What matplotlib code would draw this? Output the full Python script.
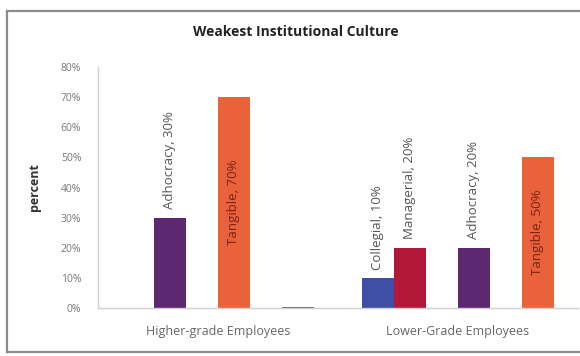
import matplotlib
matplotlib.use("Agg")
import matplotlib.pyplot as plt
from matplotlib.lines import Line2D

# groups and the six bar slots in each group (Excel clustered layout)
groups = ["Higher-grade Employees", "Lower-Grade Employees"]
higher_names = ["", "Adhocracy", "", "Tangible", "", "Other"]
higher_values = [0, 30, 0, 70, 0, 0]
lower_names = ["Collegial", "Managerial", "", "Adhocracy", "", "Tangible"]
lower_values = [10, 20, 0, 20, 0, 50]
yticks = [0, 10, 20, 30, 40, 50, 60, 70, 80]

colors = {
    "Collegial": "#3e4fa5",
    "Managerial": "#b3183b",
    "Adhocracy": "#5c2870",
    "Tangible": "#e9623a",
    "Other": "#6a6a6a",
}

plt.rcParams["font.family"] = ["Open Sans", "DejaVu Sans"]

fig = plt.figure(figsize=(5.8, 3.56), dpi=100)
ax = fig.add_axes([98 / 580, 48 / 356, 480 / 580, 241 / 356])

# outer chart frame: left, top and bottom only (right side is cut off in the scan)
fx0, fy0, fy1 = 7 / 580, 4 / 356, 345 / 356
for xs, ys in [([fx0, fx0], [fy0, fy1]), ([fx0, 1.0], [fy1, fy1]), ([fx0, 1.0], [fy0, fy0])]:
    fig.add_artist(Line2D(xs, ys, transform=fig.transFigure,
                          color="#8c8c8c", linewidth=1.6))

n_slots = 6
width = 1 / 7.5
for gi, (names, values) in enumerate([(higher_names, higher_values),
                                      (lower_names, lower_values)]):
    for k, (name, val) in enumerate(zip(names, values)):
        if not name:
            continue
        x = gi + (k - (n_slots - 1) / 2) * width
        if val == 0:
            ax.bar(x, 0.4, width=width, bottom=-0.2, color=colors[name], linewidth=0)
            continue
        ax.bar(x, val, width=width, color=colors[name], linewidth=0)
        label = f"{name}, {val}%"
        if name == "Tangible":
            ax.text(x, val / 2, label, rotation=90, ha="center", va="center",
                    fontsize=9.5, color="#7a2216")
        else:
            ax.annotate(label, (x, val), xytext=(0, 6), textcoords="offset points",
                        rotation=90, ha="center", va="bottom",
                        fontsize=9.5, color="#555555")

ax.set_xlim(-0.5, 1.5)
ax.set_ylim(0, 80)
ax.set_yticks(yticks)
ax.set_yticklabels([f"{t}%" for t in yticks])
ax.set_xticks([0, 1])
ax.set_xticklabels(groups)
ax.tick_params(axis="y", length=0, pad=12, labelsize=7.5, labelcolor="#777777")
ax.tick_params(axis="x", length=0, pad=12, labelsize=9, labelcolor="#666666")
for side in ["top", "right"]:
    ax.spines[side].set_visible(False)
for side in ["left", "bottom"]:
    ax.spines[side].set_color("#d0d0d0")
    ax.spines[side].set_linewidth(1.0)

ax.set_ylabel("percent", fontsize=9, fontweight="bold", color="#333333", labelpad=14)
fig.text(296 / 580, 1 - 32 / 356, "Weakest Institutional Culture", ha="center",
         va="center", fontsize=10, fontweight="bold", color="#222222")

fig.savefig("out.png", dpi=100)
